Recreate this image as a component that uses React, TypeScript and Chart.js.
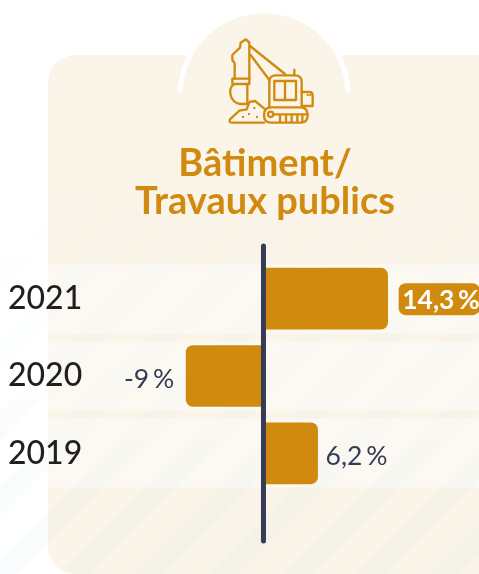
import React, { useEffect, useRef } from "react";
import { Chart, registerables } from "chart.js";

Chart.register(...registerables);

const categories = ["2021", "2020", "2019"];
const values = [14.3, -9, 6.2];
const valueLabels = ["14,3 %", "-9 %", "6,2 %"];
const titleLines = ["Bâtiment/", "Travaux publics"];

const GOLD = "#d18a10";
const NAVY = "#363c55";
const PANEL = "#faf4e9";
const BAND = "#fcf9f3";

function strokePaths(ctx: CanvasRenderingContext2D, paths: string[]) {
  for (const p of paths) ctx.stroke(new Path2D(p));
}

const backdrop = {
  id: "backdrop",
  beforeDraw(chart: any) {
    const { ctx, scales } = chart;
    ctx.save();

    ctx.fillStyle = PANEL;
    ctx.beginPath();
    ctx.roundRect(48, 55, 460, 519, 28);
    ctx.fill();
    ctx.beginPath();
    ctx.arc(264, 95, 84, 0, Math.PI * 2);
    ctx.fill();
    ctx.strokeStyle = "#ffffff";
    ctx.lineWidth = 5;
    ctx.lineCap = "round";
    ctx.beginPath();
    ctx.arc(264, 95, 84, Math.PI + 0.05, Math.PI * 2 - 0.05);
    ctx.stroke();

    ctx.fillStyle = BAND;
    categories.forEach((_, i) => {
      const y = scales.y.getPixelForValue(i);
      ctx.fillRect(48, y - 34.5, 431, 69);
    });

    // faint diagonal background stripes, fading out towards the top
    const fade = ctx.createLinearGradient(0, 170, 0, 520);
    fade.addColorStop(0, "rgba(120,190,190,0)");
    fade.addColorStop(1, "rgba(120,190,190,0.04)");
    ctx.fillStyle = fade;
    for (let s = 264; s < 1060; s += 74) {
      ctx.beginPath();
      ctx.moveTo(0, s);
      ctx.lineTo(0, s + 30);
      ctx.lineTo(s + 30, 0);
      ctx.lineTo(s, 0);
      ctx.closePath();
      ctx.fill();
    }

    // excavator icon
    ctx.save();
    ctx.translate(140, 0);
    ctx.scale(1 / 3, 1 / 3);
    ctx.strokeStyle = GOLD;
    ctx.lineWidth = 7;
    ctx.lineJoin = "round";
    ctx.lineCap = "round";
    strokePaths(ctx, [
      "M284 236 L284 190 L277 180 L277 165 L300 143 L302 128 L318 118 L328 128 L328 236",
      "M277 236 L328 236 L328 252 L277 252 Z",
      "M280 254 C264 268 268 305 300 312 L322 312 L322 252",
      "M330 138 L435 222",
      "M332 165 L388 240",
      "M388 320 L388 245 Q388 226 408 226 L465 226 Q485 226 485 246 L485 320",
      "M403 243 L468 243 L468 300 L403 300 Z",
      "M435 243 L435 300",
      "M463 209 L463 226",
      "M485 276 L508 276 Q518 276 518 286 L518 318 L488 318",
      "M392 322 L482 322 Q503 322 503 345 Q503 368 482 368 L392 368 Q372 368 372 345 Q372 322 392 322 Z",
      "M400 343 L503 343",
      "M420 345 L420 366 M438 345 L438 366 M455 345 L455 366 M472 345 L472 366 M487 345 L487 366",
      "M372 368 L275 368 Q266 368 270 358 L298 332 L320 328 L328 306 L345 303 L372 325",
    ]);
    ctx.beginPath();
    ctx.arc(392, 343, 8, 0, Math.PI * 2);
    ctx.stroke();
    ctx.fillStyle = GOLD;
    [[306, 348], [324, 339], [340, 321], [348, 348], [500, 282], [508, 282]].forEach(([x, y]) =>
      ctx.fillRect(x, y, 6, 6),
    );
    ctx.restore();

    ctx.fillStyle = GOLD;
    ctx.font = "bold 38px Lato";
    ctx.textAlign = "center";
    ctx.textBaseline = "alphabetic";
    titleLines.forEach((line, i) => ctx.fillText(line, 265, 176 + i * 38));
    ctx.restore();
  },
};

const overlay = {
  id: "overlay",
  afterDatasetsDraw(chart: any) {
    const { ctx, scales } = chart;
    const x0 = scales.x.getPixelForValue(0);
    const bars = chart.getDatasetMeta(0).data;
    ctx.save();
    ctx.strokeStyle = NAVY;
    ctx.lineWidth = 5;
    ctx.lineCap = "round";
    ctx.beginPath();
    ctx.moveTo(x0 - 0.5, 246);
    ctx.lineTo(x0 - 0.5, 541);
    ctx.stroke();

    ctx.textBaseline = "middle";
    ctx.textAlign = "left";
    (ctx as any).wordSpacing = "-3px";
    values.forEach((v, i) => {
      const bar = bars[i];
      const highlighted = i === 0;
      ctx.font = highlighted ? "bold 26.5px Lato" : "26.5px Lato";
      const text = valueLabels[i];
      const w = ctx.measureText(text).width;
      if (highlighted) {
        const left = bar.x + 11;
        ctx.fillStyle = GOLD;
        ctx.beginPath();
        ctx.roundRect(left, bar.y - 15.5, 81, 32, 7);
        ctx.fill();
        ctx.fillStyle = "#ffffff";
        ctx.fillText(text, left + 3.5, bar.y + 1.5);
      } else {
        const x = v < 0 ? bar.x - 12 - w : bar.x + 8;
        ctx.fillStyle = NAVY;
        ctx.fillText(text, x, bar.y + 3);
      }
    });
    ctx.restore();
  },
};

export default function App() {
  const ref = useRef<HTMLCanvasElement>(null);
  useEffect(() => {
    const chart = new Chart(ref.current!, {
      type: "bar",
      data: {
        labels: categories,
        datasets: [
          {
            data: values,
            backgroundColor: GOLD,
            barThickness: 61,
            borderRadius: 7,
            borderSkipped: "start",
          },
        ],
      },
      options: {
        indexAxis: "y",
        animation: false,
        responsive: false,
        layout: { padding: { left: 8, top: 260, bottom: 82, right: 0 } },
        plugins: { legend: { display: false }, tooltip: { enabled: false } },
        scales: {
          x: {
            display: false,
            min: -19.42,
            max: 24.86,
          },
          y: {
            afterFit(axis: any) {
              axis.width = 88;
            },
            border: { display: false },
            grid: { display: false },
            ticks: {
              crossAlign: "far",
              color: "#1f1f1f",
              font: { family: "Lato", size: 32, weight: "500" },
            },
          },
        },
      },
      plugins: [backdrop, overlay],
    } as any);
    return () => chart.destroy();
  }, []);
  return (
    <canvas
      ref={ref}
      width={479}
      height={574}
      style={{ position: "absolute", left: 0, top: 0, width: 479, height: 574, display: "block" }}
    />
  );
}
